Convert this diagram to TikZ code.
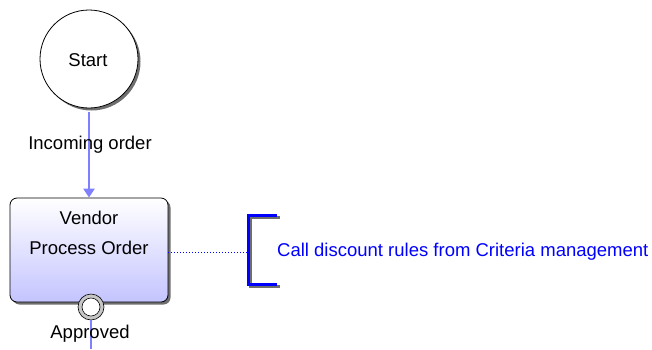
\documentclass[tikz,border=0pt]{standalone}
\usepackage{fontspec}
\setmainfont{Liberation Sans}
\usepackage{tikz}
\usetikzlibrary{shapes, arrows.meta, positioning, calc, shadows}
\definecolor{flowblue}{RGB}{128, 128, 255}
\definecolor{noteblue}{RGB}{0, 0, 255}
\definecolor{boxlavender}{RGB}{196, 196, 255}
\definecolor{shadowgray}{RGB}{110, 110, 110}
\tikzset{
  >=Triangle,
  flowarrow/.style={-{Triangle[length=9pt, width=11pt]}, line width=2.4pt, flowblue},
  flowline/.style={line width=2.4pt, flowblue},
  eventnode/.style={circle, draw=black, line width=0.8pt, fill=white, minimum size=98pt, inner sep=0pt,
    drop shadow={shadow xshift=2.5pt, shadow yshift=-2.5pt, fill=shadowgray, opacity=1}},
  taskbox/.style={rectangle, rounded corners=7pt, draw=black, line width=0.8pt, minimum width=158pt, minimum height=104pt,
    top color=white, bottom color=boxlavender,
    drop shadow={shadow xshift=2.5pt, shadow yshift=-2.5pt, fill=shadowgray, opacity=1}},
  labeltext/.style={font=\fontsize{18.5}{20}\selectfont, inner sep=0pt}
}

\begin{document}
\begin{tikzpicture}[x=1pt, y=-1pt]
    \useasboundingbox (0,0) rectangle (652,349);

    % --- START EVENT ---
    \node[eventnode] (start) at (89, 59) {};
    \node[labeltext] (starttext) at (88, 60) {Start};

    % --- TASK BOX ---
    \node[taskbox] (order) at (89, 250) {};
    \node[labeltext, align=center, font=\fontsize{18.5}{30}\selectfont] (ordertext) at (89, 233) {Vendor\\Process Order};

    % Arrow from start to task
    \draw[flowarrow] (start.south |- 0,112) -- (order.north -| start.south);
    \node[labeltext] (incoming) at (90, 145) {Incoming order};

    % --- INTERMEDIATE RING ---
    \node[circle, draw=black, line width=0.6pt, fill=gray!45, minimum size=26pt, inner sep=0pt] (ring) at (91, 307) {};
    \node[circle, draw=black, line width=0.6pt, fill=white, minimum size=18pt, inner sep=0pt] (ringin) at (91, 307) {};
    \coordinate (outflow) at (91, 349);
    \draw[flowline] (ring.south) -- (outflow);
    \node[labeltext] (approved) at (90, 334) {Approved};

    % --- ANNOTATION ---
    \coordinate (bracket) at (248, 252);
    \draw[noteblue, dotted, line width=1pt] (order.east |- bracket) -- (bracket);
    \draw[shadowgray, line width=3pt] (279.5, 217.5) -- (250.5, 217.5) -- (250.5, 286.5) -- (279.5, 286.5);
    \draw[noteblue, line width=3pt] (277, 215) -- (248, 215) -- (248, 284) -- (277, 284);
    \node[labeltext, anchor=west, text=noteblue] (note) at (277, 252) {Call discount rules from Criteria management};
\end{tikzpicture}
\end{document}
